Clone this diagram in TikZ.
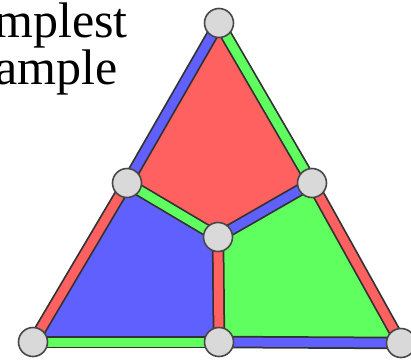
\documentclass[tikz,border=0pt]{standalone}
\usepackage{fontspec}
\setmainfont{Liberation Serif}
\usetikzlibrary{positioning}
\definecolor{facered}{RGB}{255,96,96}
\definecolor{faceblue}{RGB}{96,96,255}
\definecolor{facegreen}{RGB}{96,255,96}
\definecolor{rim}{RGB}{50,50,50}
\tikzset{
    face/.style={draw=rim, line width=1pt, line join=round},
    edgeback/.style={draw=rim, line width=12.5pt},
    edgestrip/.style={draw=#1, line width=9pt},
    vertex/.style={circle, draw=rim!90, fill=gray!30, line width=1.6pt, minimum size=29pt, inner sep=0pt},
    title/.style={font=\fontsize{50}{56}\selectfont, anchor=base east, inner sep=0pt},
}
\newcommand{\stripedge}[3]{%
    \draw[edgeback] (#1) -- (#2);
    \draw[edgestrip=#3] (#1) -- (#2);
}
\begin{document}
\begin{tikzpicture}[x=1pt, y=-1pt]
\useasboundingbox (0,0) rectangle (411,359);
% corners of the triangle and the inner points
\coordinate (top) at (219,23);
\coordinate (lmid) at (127,183);
\coordinate (rmid) at (312,183);
\coordinate (ctr) at (218,237);
\coordinate (bl) at (33,342);
\coordinate (bmid) at (219,342);
\coordinate (br) at (401,343);

\node[title] (line1) at (128,37) {Simplest};
\node[title] (line2) at (118,84) {example};

% faces
\filldraw[face, fill=facered] (top) -- (rmid) -- (ctr) -- (lmid) -- cycle;
\filldraw[face, fill=faceblue] (lmid) -- (ctr) -- (bmid) -- (bl) -- cycle;
\filldraw[face, fill=facegreen] (ctr) -- (rmid) -- (br) -- (bmid) -- cycle;

% edges
\stripedge{top}{lmid}{faceblue}
\stripedge{top}{rmid}{facegreen}
\stripedge{lmid}{bl}{facered}
\stripedge{rmid}{br}{facered}
\stripedge{bl}{bmid}{facegreen}
\stripedge{bmid}{br}{faceblue}
\stripedge{lmid}{ctr}{facegreen}
\stripedge{ctr}{rmid}{faceblue}
\stripedge{ctr}{bmid}{facered}

% vertices
\foreach \v in {top,lmid,rmid,ctr,bl,bmid,br}
    \node[vertex] (v-\v) at (\v) {};
\end{tikzpicture}
\end{document}
